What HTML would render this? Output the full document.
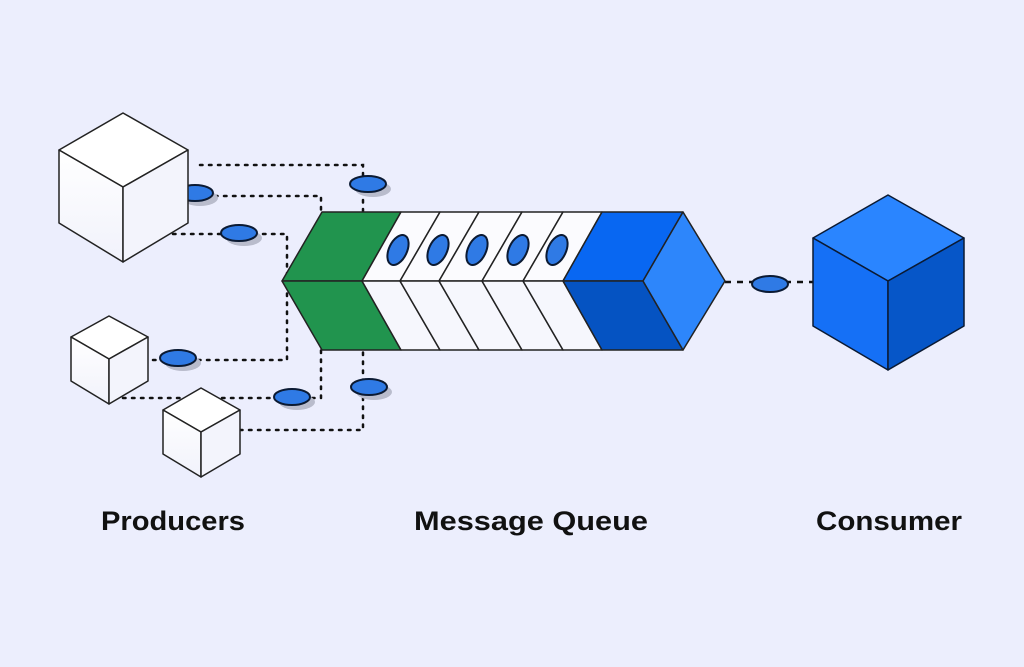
<!DOCTYPE html>
<html><head><meta charset="utf-8"><style>
html,body{margin:0;padding:0;background:#eceefd;}
svg{display:block;}
text{font-family:"Liberation Sans",sans-serif;font-weight:bold;font-size:27px;fill:#111;}
</style></head><body>
<svg width="1024" height="667" viewBox="0 0 1024 667" xmlns="http://www.w3.org/2000/svg">
<rect width="1024" height="667" fill="#eceefd"/>
<defs>
<linearGradient id="wf" x1="0" y1="0" x2="0" y2="1"><stop offset="0" stop-color="#ffffff"/><stop offset="1" stop-color="#f1f2fb"/></linearGradient>
</defs>
<!-- dotted connectors -->
<g stroke="#111" stroke-width="2.5" stroke-dasharray="2.5 6.5" fill="none" stroke-linecap="round">
<path d="M200 165 H363 V212"/>
<path d="M188 196 H321 V212"/>
<path d="M173 234 H287 V281"/>
<path d="M153 360 H287 V281"/>
<path d="M123 398 H321 V350"/>
<path d="M240 430 H363 V350"/>
</g>
<path d="M725 282 H813" stroke="#111" stroke-width="2.5" stroke-dasharray="6 6" fill="none"/>
<!-- message ellipses with shadows -->
<g>
<g fill="#b9bccc">
<ellipse cx="200" cy="198" rx="18" ry="8"/>
<ellipse cx="244" cy="238" rx="18" ry="8"/>
<ellipse cx="373" cy="189" rx="18" ry="8"/>
<ellipse cx="183" cy="363" rx="18" ry="8"/>
<ellipse cx="297" cy="402" rx="18" ry="8"/>
<ellipse cx="374" cy="392" rx="18" ry="8"/>
</g>
<g fill="#2f7ae5" stroke="#0b1a33" stroke-width="2">
<ellipse cx="195" cy="193" rx="18" ry="8"/>
<ellipse cx="239" cy="233" rx="18" ry="8"/>
<ellipse cx="368" cy="184" rx="18" ry="8"/>
<ellipse cx="178" cy="358" rx="18" ry="8"/>
<ellipse cx="292" cy="397" rx="18" ry="8"/>
<ellipse cx="369" cy="387" rx="18" ry="8"/>
<ellipse cx="770" cy="284" rx="18" ry="8"/>
</g>
</g>
<!-- producer cubes -->
<g stroke="#222" stroke-width="1.5" stroke-linejoin="round">
<polygon points="123,113 188,150 123,187 59,150" fill="#ffffff"/>
<polygon points="59,150 123,187 123,262 59,223" fill="url(#wf)"/>
<polygon points="188,150 123,187 123,262 188,223" fill="#f3f4fc"/>
<polygon points="109,316 148,337 109,359 71,337" fill="#ffffff"/>
<polygon points="71,337 109,359 109,404 71,381" fill="url(#wf)"/>
<polygon points="148,337 109,359 109,404 148,381" fill="#f3f4fc"/>
<polygon points="201,388 240,410 201,432 163,410" fill="#ffffff"/>
<polygon points="163,410 201,432 201,477 163,454" fill="url(#wf)"/>
<polygon points="240,410 201,432 201,477 240,454" fill="#f3f4fc"/>
</g>
<!-- queue -->
<g stroke="#222" stroke-width="1.5" stroke-linejoin="round">
<polygon points="322,212 401,212 362,281 282,281" fill="#21944e"/>
<polygon points="282,281 362,281 401,350 322,350" fill="#21944e"/>
<polygon points="401,212 440,212 400,281 362,281" fill="#fbfbfe"/>
<polygon points="440,212 479,212 439,281 400,281" fill="#fbfbfe"/>
<polygon points="479,212 522,212 482,281 439,281" fill="#fbfbfe"/>
<polygon points="522,212 563,212 523,281 482,281" fill="#fbfbfe"/>
<polygon points="563,212 602,212 563,281 523,281" fill="#fbfbfe"/>
<polygon points="362,281 400,281 440,350 401,350" fill="#f6f7fd"/>
<polygon points="400,281 439,281 479,350 440,350" fill="#f6f7fd"/>
<polygon points="439,281 482,281 522,350 479,350" fill="#f6f7fd"/>
<polygon points="482,281 523,281 563,350 522,350" fill="#f6f7fd"/>
<polygon points="523,281 563,281 602,350 563,350" fill="#f6f7fd"/>
<polygon points="602,212 683,212 643,281 563,281" fill="#0867f2"/>
<polygon points="563,281 643,281 683,350 602,350" fill="#0553c2"/>
<polygon points="683,212 725,281 683,350 643,281" fill="#2d86fb"/>
</g>
<g fill="#2f7ae5" stroke="#0b1a33" stroke-width="2">
<ellipse cx="398" cy="250" rx="9" ry="16" transform="rotate(25 398 250)"/>
<ellipse cx="438" cy="250" rx="9" ry="16" transform="rotate(25 438 250)"/>
<ellipse cx="477" cy="250" rx="9" ry="16" transform="rotate(25 477 250)"/>
<ellipse cx="518" cy="250" rx="9" ry="16" transform="rotate(25 518 250)"/>
<ellipse cx="557" cy="250" rx="9" ry="16" transform="rotate(25 557 250)"/>
</g>
<!-- consumer cube -->
<g stroke="#0b1a33" stroke-width="1.5" stroke-linejoin="round">
<polygon points="888,195 964,238 888,281 813,238" fill="#2a85ff"/>
<polygon points="813,238 888,281 888,370 813,326" fill="#1570f6"/>
<polygon points="964,238 888,281 888,370 964,326" fill="#0656c8"/>
</g>
<!-- labels -->
<text x="101" y="530" textLength="144" lengthAdjust="spacingAndGlyphs">Producers</text>
<text x="414" y="530" textLength="234" lengthAdjust="spacingAndGlyphs">Message Queue</text>
<text x="816" y="530" textLength="146" lengthAdjust="spacingAndGlyphs">Consumer</text>
</svg>
</body></html>
